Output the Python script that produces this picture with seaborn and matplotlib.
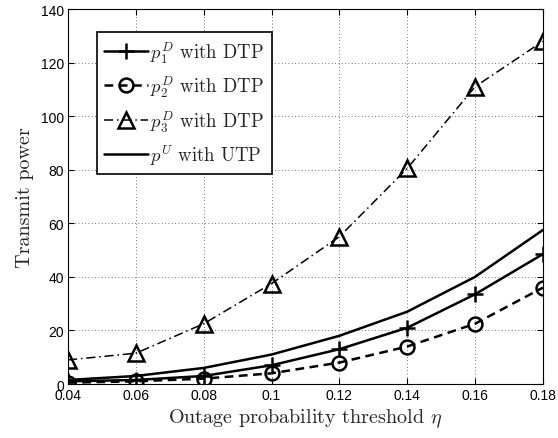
import numpy as np
import pandas as pd
import seaborn as sns
import matplotlib
matplotlib.use("Agg")
import matplotlib.pyplot as plt

# values
eta = [0.04, 0.06, 0.08, 0.10, 0.12, 0.14, 0.16, 0.18]
p1_dtp = [1.0, 1.5, 3.0, 7.0, 13.0, 21.0, 33.5, 48.5]
p2_dtp = [0.5, 1.0, 2.0, 4.0, 8.0, 14.0, 22.5, 36.0]
p3_dtp = [9.0, 11.5, 22.5, 37.5, 55.0, 80.5, 111.0, 128.0]
pu_utp = [1.5, 3.0, 6.0, 11.0, 18.0, 27.0, 40.0, 57.5]
labels = [r"$p_1^D$ with DTP", r"$p_2^D$ with DTP", r"$p_3^D$ with DTP", r"$p^U$ with UTP"]
xticks = [0.04, 0.06, 0.08, 0.1, 0.12, 0.14, 0.16, 0.18]
yticks = [0, 20, 40, 60, 80, 100, 120, 140]

sns.set_style("ticks")
plt.rcParams["mathtext.fontset"] = "cm"
plt.rcParams["axes.formatter.use_mathtext"] = True

df = pd.DataFrame({"eta": eta, "p1": p1_dtp, "p2": p2_dtp, "p3": p3_dtp, "pu": pu_utp})

fig = plt.figure(figsize=(5.58, 4.39), dpi=100)
ax = fig.add_axes([0.1219, 0.123, 0.851, 0.854])

# series styles
styles = [
    dict(y="p1", marker="+", markersize=12, linestyle="-", linewidth=1.8),
    dict(y="p2", marker="o", markersize=10, linestyle=(0, (3.5, 2.2)), linewidth=1.8, markerfacecolor="none"),
    dict(y="p3", marker="^", markersize=11, linestyle=(0, (6, 2.5, 1, 2.5)), linewidth=1.1, markerfacecolor="none"),
    dict(y="pu", marker=None, linestyle="-", linewidth=1.8),
]
for st, lab in zip(styles, labels):
    kw = dict(st)
    y = kw.pop("y")
    sns.lineplot(data=df, x="eta", y=y, ax=ax, color="k", label=lab,
                 markeredgecolor="k", markeredgewidth=1.8, **kw)

ax.set_xlim(0.04, 0.18)
ax.set_ylim(0, 140)
ax.set_xticks(xticks)
ax.set_xticklabels(["0.04", "0.06", "0.08", "0.1", "0.12", "0.14", "0.16", "0.18"],
                   family="Liberation Sans", fontsize=10)
ax.set_yticks(yticks)
ax.set_yticklabels([str(v) for v in yticks], family="Liberation Sans", fontsize=10)
ax.tick_params(direction="in", top=True, right=True, length=4, width=0.8, colors="k", pad=3)
ax.grid(True, linestyle=(0, (1, 3)), color="k", linewidth=0.6, alpha=0.7)
for s in ax.spines.values():
    s.set_color("k")
    s.set_linewidth(0.8)

ax.set_xlabel(r"Outage probability threshold $\eta$", family="cmr10", fontsize=14.5, labelpad=3)
ax.set_ylabel("Transmit power", family="cmr10", fontsize=14.5, labelpad=5)

leg = ax.legend(loc="upper left", bbox_to_anchor=(0.061, 0.939), borderaxespad=0,
                prop={"family": "cmr10", "size": 13.5}, frameon=True, fancybox=False,
                edgecolor="k", framealpha=1, handlelength=2.3, borderpad=0.4,
                labelspacing=0.45, handletextpad=0.15)
leg.get_frame().set_linewidth(1.2)

fig.savefig("out.png", dpi=100)
